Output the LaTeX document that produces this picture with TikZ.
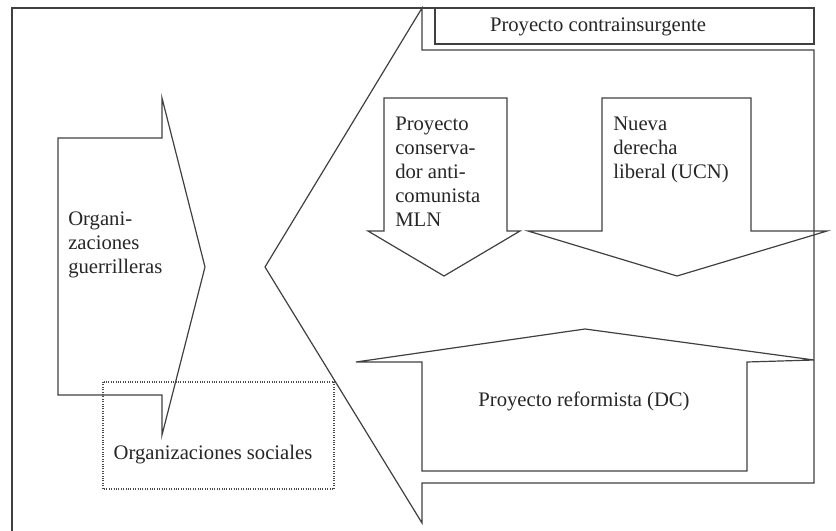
\documentclass[tikz,border=0pt]{standalone}
\usepackage{fontspec}
\setmainfont{Liberation Serif}
\begin{document}
\begin{tikzpicture}[x=0.75pt,y=-0.75pt,
    shapeline/.style={draw=black!75,line width=0.9pt,line join=miter},
    labeltext/.style={inner sep=0pt,font=\fontsize{15.5}{18}\selectfont,text=black!85},
    lefttext/.style={labeltext,align=left,anchor=north west}]
  % frame
  \useasboundingbox (0,0) rectangle (836,531);
  \draw[shapeline] (12,531) -- (12,8) -- (814,8);
  % contrainsurgente box
  \draw[shapeline] (435,8) rectangle (814,44);
  \node[labeltext] (contra) at (598,27) {Proyecto contrainsurgente};

  % big arrow pointing left
  \draw[shapeline] (265,267) -- (422,8) -- (422,50) -- (814,50) -- (814,483)
    -- (422,483) -- (422,523) -- cycle;

  % guerrillas, arrow pointing right
  \draw[shapeline] (58,138) -- (162,138) -- (162,98) -- (205,267) -- (162,435)
    -- (162,395) -- (58,395) -- cycle;
  \node[lefttext] (guerr) at (68,212) {Organi-\\zaciones\\guerrilleras};

  % social organizations
  \draw[densely dotted,draw=black!70,line width=0.8pt] (103,382) rectangle (334,489);
  \node[labeltext] (social) at (213,455) {Organizaciones sociales};

  % down arrows
  \foreach \xa/\xb/\xc/\xd/\xt in {368/384/507/520/444,528/602/751/827/677} {
    \draw[shapeline] (\xb,98) -- (\xc,98) -- (\xc,231) -- (\xd,231) -- (\xt,276)
      -- (\xa,231) -- (\xb,231) -- cycle;
  };
  \node[lefttext] (mln) at (395,117) {Proyecto\\conserva-\\dor anti-\\comunista\\MLN};
  \node[lefttext] (ucn) at (613,117) {Nueva\\derecha\\liberal (UCN)};

  % up arrow
  \draw[shapeline] (422,471) -- (747,471) -- (747,362) -- (814,360) -- (585,329)
    -- (356,362) -- (422,362) -- cycle;
  \node[labeltext] (dc) at (584,401) {Proyecto reformista (DC)};
\end{tikzpicture}
\end{document}
